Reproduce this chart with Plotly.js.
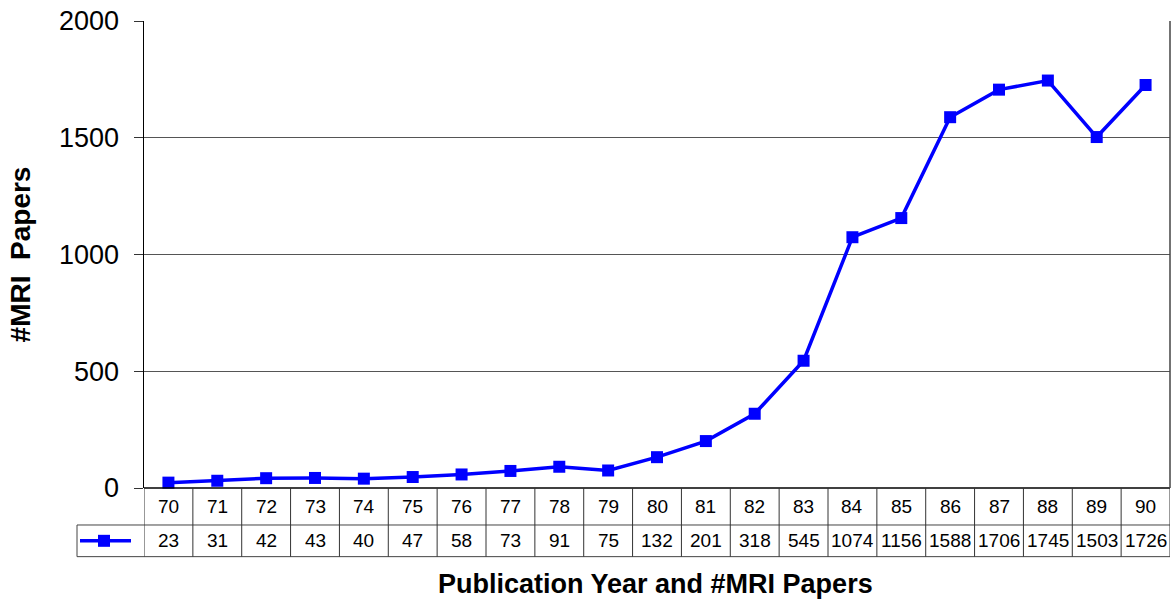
<!DOCTYPE html>
<html>
<head>
<meta charset="utf-8">
<script src="https://cdn.plot.ly/plotly-3.0.1.min.js"></script>
<style>html,body{margin:0;padding:0;background:#fff;}#chart{width:1172px;height:602px;}</style>
</head>
<body>
<div id="chart"></div>
<script>
const years = ["70","71","72","73","74","75","76","77","78","79","80","81","82","83","84","85","86","87","88","89","90"];
const papers = [23,31,42,43,40,47,58,73,91,75,132,201,318,545,1074,1156,1588,1706,1745,1503,1726];
const yTicks = [0,500,1000,1500,2000];

const idx = years.map((_, i) => i);
const FONT = "Liberation Sans, Arial, sans-serif";

// table geometry (paper units relative to plot area)
const rowYearBottom = -0.0792;
const rowValBottom = -0.147;
const legendLeft = -0.0653;

const shapes = [];
const annotations = [];
// horizontal table lines
shapes.push({type:'line', xref:'paper', yref:'paper', x0:0, x1:1, y0:0, y1:0, line:{color:'#000', width:1.5}});
shapes.push({type:'line', xref:'paper', yref:'paper', x0:legendLeft, x1:1, y0:rowYearBottom, y1:rowYearBottom, line:{color:'#444', width:1}});
shapes.push({type:'line', xref:'paper', yref:'paper', x0:legendLeft, x1:1, y0:rowValBottom, y1:rowValBottom, line:{color:'#444', width:1}});
shapes.push({type:'line', xref:'paper', yref:'paper', x0:legendLeft, x1:legendLeft, y0:rowYearBottom, y1:rowValBottom, line:{color:'#444', width:1}});
// vertical cell boundaries
for (let i = 0; i <= years.length; i++) {
  shapes.push({type:'line', xref:'x', yref:'paper', x0:i-0.5, x1:i-0.5, y0:0, y1:rowValBottom, line:{color:'#333', width:1}});
}
// legend key
shapes.push({type:'line', xref:'paper', yref:'paper', x0:(80-144)/1026, x1:(131-144)/1026, y0:(rowYearBottom+rowValBottom)/2, y1:(rowYearBottom+rowValBottom)/2, line:{color:'#0000FF', width:3.5}});
shapes.push({type:'rect', xref:'paper', yref:'paper', x0:(98-144)/1026, x1:(110-144)/1026, y0:(rowYearBottom+rowValBottom)/2 - 6/467, y1:(rowYearBottom+rowValBottom)/2 + 6/467, fillcolor:'#0000FF', line:{width:0}});

years.forEach((y, i) => {
  annotations.push({xref:'x', yref:'paper', x:i, y:rowYearBottom/2, text:y, showarrow:false, xanchor:'center', yanchor:'middle', font:{family:FONT, size:19, color:'#000'}});
  annotations.push({xref:'x', yref:'paper', x:i, y:(rowYearBottom+rowValBottom)/2, text:String(papers[i]), showarrow:false, xanchor:'center', yanchor:'middle', font:{family:FONT, size:19, color:'#000'}});
});
// x title
annotations.push({xref:'paper', yref:'paper', x:(655-144)/1026, y:(488-584)/467, text:'<b>Publication Year and #MRI Papers</b>', showarrow:false, xanchor:'center', yanchor:'middle', font:{family:FONT, size:27, color:'#000'}});

const trace = {
  x: idx, y: papers, type:'scatter', mode:'lines+markers',
  line:{color:'#0000FF', width:3.5},
  marker:{symbol:'square', size:12, color:'#0000FF'},
  hoverinfo:'skip', showlegend:false, cliponaxis:false
};

const layout = {
  width:1172, height:602,
  margin:{l:144, r:2, t:21, b:114},
  paper_bgcolor:'#fff', plot_bgcolor:'#fff',
  font:{family:FONT, color:'#000'},
  showlegend:false,
  xaxis:{range:[-0.5,20.5], showticklabels:false, showgrid:false, zeroline:false, ticks:'', showline:false, fixedrange:true},
  yaxis:{range:[0,2000], tickvals:yTicks, ticktext:yTicks.map(String), ticks:'outside', ticklen:9, tickcolor:'#333', tickwidth:1,
         ticklabelstandoff:9,
         tickfont:{family:FONT, size:27, color:'#000'}, showgrid:true, gridcolor:'#555', gridwidth:1, zeroline:false,
         showline:true, linecolor:'#000', linewidth:1.5, mirror:false,
         title:{text:'<b>#MRI\u00a0\u00a0Papers</b>', font:{family:FONT, size:28, color:'#000'}, standoff:20}, fixedrange:true},
  shapes: shapes.concat([{type:'line', xref:'paper', yref:'paper', x0:1, x1:1, y0:0, y1:1, line:{color:'#444', width:1.5}}]),
  annotations: annotations
};

Plotly.newPlot('chart', [trace], layout, {displayModeBar:false, staticPlot:true});
</script>
</body>
</html>
